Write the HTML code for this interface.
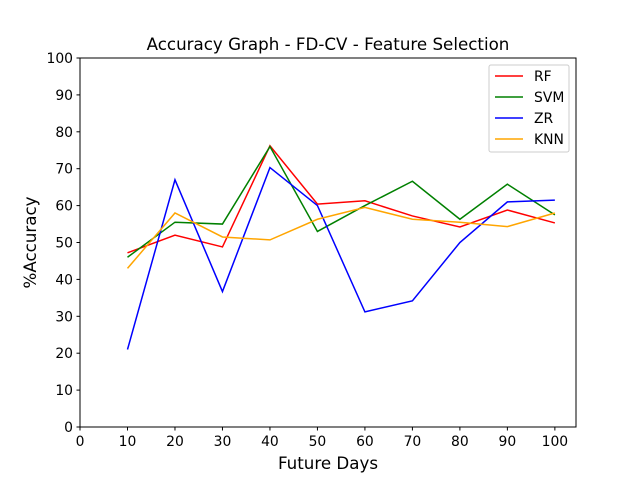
<!DOCTYPE html>
<html><head><meta charset="utf-8"><style>
body{margin:0;background:#fff;}
svg{display:block;font-family:"DejaVu Sans","Liberation Sans",sans-serif;}
</style></head><body>
<svg id="chart" width="640" height="480"></svg>
<script>
const categories=[10,20,30,40,50,60,70,80,90,100];
const rfValues=[47.2,52,48.8,76.2,60.4,61.3,57.2,54.2,58.8,55.3];
const svmValues=[46,55.5,55,76,53,60,66.6,56.3,65.8,57.5];
const zrValues=[21,67,36.7,70.3,60,31.2,34.2,50,61,61.5];
const knnValues=[43,58,51.5,50.7,56.3,59.5,56.3,55.5,54.3,58];
const xTicks=[0,10,20,30,40,50,60,70,80,90,100];
const yTicks=[0,10,20,30,40,50,60,70,80,90,100];
const seriesNames=["RF","SVM","ZR","KNN"];
const seriesColors=["red","green","blue","orange"];

const NS="http://www.w3.org/2000/svg";
const svg=document.getElementById('chart');
const L=80,R=576,T=58,B=427;
const xMax=104.45;
const xs=v=>L+(v/xMax)*(R-L);
const ys=v=>B-(v/100)*(B-T);
function mk(tag,attrs,parent){const e=document.createElementNS(NS,tag);for(const k in attrs)e.setAttribute(k,attrs[k]);(parent||svg).appendChild(e);return e;}

const series=[rfValues,svmValues,zrValues,knnValues];
series.forEach((vals,i)=>{
  const p=mk('polyline',{points:vals.map((v,j)=>xs(categories[j])+','+ys(v)).join(' '),fill:'none',stroke:seriesColors[i],'stroke-width':1.5});
  
  
});

const frame=mk('rect',{x:L,y:T,width:R-L,height:B-T,fill:'none',stroke:'#000','stroke-width':1});



xTicks.forEach(t=>{
  mk('line',{x1:xs(t),x2:xs(t),y1:B,y2:B+3.5,stroke:'#000'});
  const tx=mk('text',{x:xs(t),y:B+19,'text-anchor':'middle','font-size':13.9});
  tx.textContent=t;
  
  
});
yTicks.forEach(t=>{
  mk('line',{x1:L-3.5,x2:L,y1:ys(t),y2:ys(t),stroke:'#000'});
  const tx=mk('text',{x:L-7,y:ys(t)+5,'text-anchor':'end','font-size':13.9});
  tx.textContent=t;
  
  
});

const title=mk('text',{x:(L+R)/2,y:50,'text-anchor':'middle','font-size':16.7});
title.textContent='Accuracy Graph - FD-CV - Feature Selection';


const xl=mk('text',{x:(L+R)/2,y:469,'text-anchor':'middle','font-size':16.7});
xl.textContent='Future Days';


const yl=mk('text',{x:0,y:0,'text-anchor':'middle','font-size':16.7,transform:'translate(36,'+((T+B)/2)+') rotate(-90)'});
yl.textContent='%Accuracy';



const lg=mk('g',{});


mk('rect',{x:489,y:65,width:80,height:87,rx:2,fill:'#fff',stroke:'#ccc'},lg);
seriesNames.forEach((n,i)=>{
  const y=76+i*21;
  mk('line',{x1:495,x2:523,y1:y,y2:y,stroke:seriesColors[i],'stroke-width':1.5},lg);
  const t=mk('text',{x:534,y:y+5,'font-size':13.9},lg);
  t.textContent=n;
  
  
});
</script>
</body></html>
